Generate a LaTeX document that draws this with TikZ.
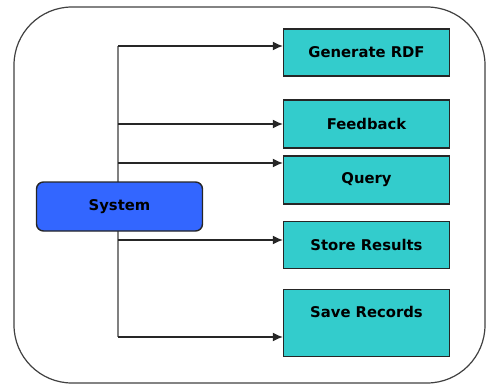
\documentclass[tikz,border=0pt]{standalone}
\usepackage{fontspec}
\setmainfont{DejaVu Sans}
\usepackage{tikz}
\usetikzlibrary{arrows}
\usetikzlibrary{arrows.meta}
\usetikzlibrary{calc}
\usepackage{xcolor}
\definecolor{casecyan}{HTML}{33CCCC}
\definecolor{sysblue}{HTML}{3366FF}
\tikzset{
  >=latex,
  line/.style={draw=black!85, line width=1.3pt, -{Latex[length=10pt,width=9pt]}},
  frame/.style={draw=black!75, line width=1.2pt, rounded corners=58pt}
}

\begin{document}
\begin{tikzpicture}[x=1pt, y=-1pt, font=\bfseries\fontsize{14.8}{17}\selectfont]
    % Define styles
    \tikzstyle{block} = [rectangle, draw=black!85, line width=1.4pt, fill=casecyan, minimum width=166pt, inner sep=0pt]
    \tikzstyle{sysbox} = [rectangle, draw=black!85, line width=1.4pt, fill=sysblue, rounded corners=7pt, minimum width=166pt, minimum height=49pt]
    \tikzstyle{trunk} = [draw=black!50, line width=1.8pt]
    \useasboundingbox (0,0) rectangle (486,385);

    % Outer frame
    \draw [frame] (14,7) rectangle (485,383);

    % Place nodes
    \node [block, minimum height=47pt] (gen) at (366.5,52.5) {Generate RDF};
    \node [block, minimum height=48pt] (feedback) at (366.5,124) {Feedback};
    \node [block, minimum height=48pt] (query) at (366.5,180) {Query};
    \node [block, minimum height=47pt] (store) at (366.5,245) {Store Results};
    \node [block, anchor=north, text height=28pt, text depth=39pt] (save) at (366.5,289) {Save Records};

    % Junctions on the trunk
    \coordinate (j1) at (118,46);
    \coordinate (j2) at (118,124);
    \coordinate (j3) at (118,163);
    \coordinate (j4) at (118,240);
    \coordinate (j5) at (118,337);

    % Draw edges
    \path [trunk] (j1) -- (j5);
    \node [sysbox] (system) at (119.5,206.5) {System};
    \path [line] (j1) -- (j1 -| gen.west);
    \path [line] (j2) -- (j2 -| feedback.west);
    \path [line] (j3) -- (j3 -| query.west);
    \path [line] (j4) -- (j4 -| store.west);
    \path [line] (j5) -- (j5 -| save.west);
\end{tikzpicture}
\end{document}
